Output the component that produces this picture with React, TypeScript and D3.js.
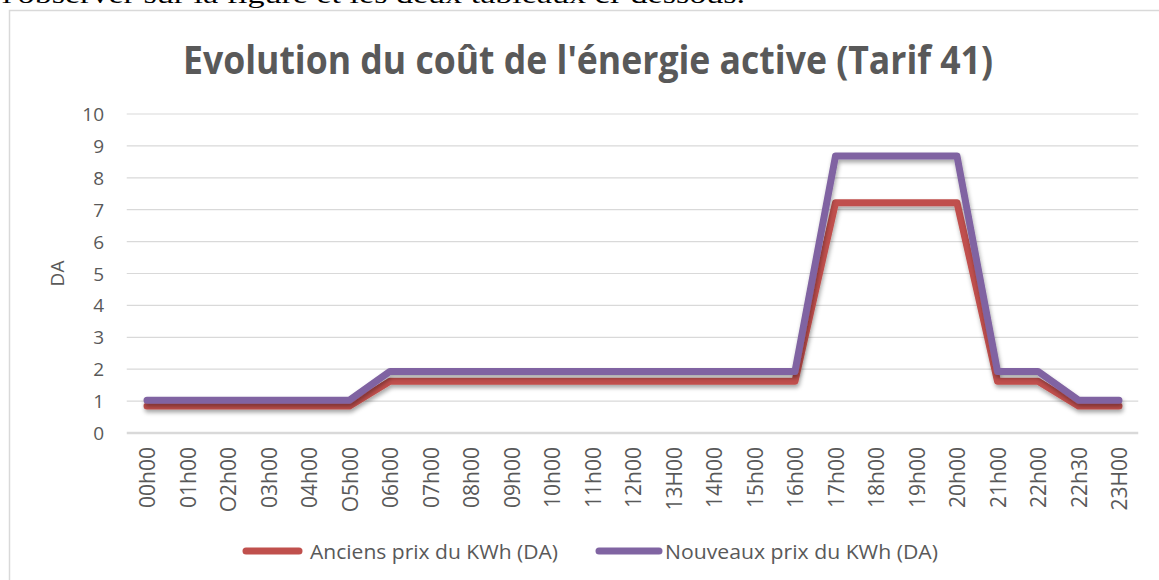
import React from "react";
import * as d3 from "d3";

// Time slots on the horizontal axis (labels as printed)
const hours = [
  "00h00", "01h00", "O2h00", "03h00", "04h00", "O5h00", "06h00", "07h00",
  "08h00", "09h00", "10h00", "11h00", "12h00", "13H00", "14h00", "15h00",
  "16h00", "17h00", "18h00", "19h00", "20h00", "21h00", "22h00", "22h30", "23H00",
];

// Former price per kWh (DA)
const anciensPrix = [
  0.85, 0.85, 0.85, 0.85, 0.85, 0.85, 1.62, 1.62, 1.62, 1.62, 1.62, 1.62, 1.62,
  1.62, 1.62, 1.62, 1.62, 7.22, 7.22, 7.22, 7.22, 1.62, 1.62, 0.85, 0.85,
];

// New price per kWh (DA)
const nouveauxPrix = [
  1.03, 1.03, 1.03, 1.03, 1.03, 1.03, 1.93, 1.93, 1.93, 1.93, 1.93, 1.93, 1.93,
  1.93, 1.93, 1.93, 1.93, 8.68, 8.68, 8.68, 8.68, 1.93, 1.93, 1.03, 1.03,
];

const yTicks = [0, 1, 2, 3, 4, 5, 6, 7, 8, 9, 10];

const seriesNames = ["Anciens prix du KWh (DA)", "Nouveaux prix du KWh (DA)"];
const seriesColors = ["#C0504D", "#8064A2"];

const W = 1159;
const H = 580;
const FONT = "'Open Sans', sans-serif";
const TEXT = "#595959";
const GRID = "#d9d9d9";

export default function App() {
  const plotLeft = 126.75;
  const plotRight = 1139.25;
  const plotTop = 114;
  const plotBottom = 433;

  const x = d3.scaleBand<string>().domain(hours).range([plotLeft, plotRight]);
  const cx = (h: string) => (x(h) as number) + x.bandwidth() / 2;
  const y = d3.scaleLinear().domain([0, 10]).range([plotBottom, plotTop]);

  const line = d3
    .line<number>()
    .x((_, i) => cx(hours[i]))
    .y((d) => y(d));

  const series = [anciensPrix, nouveauxPrix];

  return (
    <svg
      width={W}
      height={H}
      style={{ position: "absolute", left: 0, top: 0, background: "#fff" }}
      fontFamily={FONT}
    >
      <defs>
        <filter id="lineShadow" x="-5%" y="-20%" width="110%" height="140%">
          <feDropShadow dx="1" dy="3" stdDeviation="2" floodColor="#000" floodOpacity="0.35" />
        </filter>
      </defs>

      {/* running text of the surrounding document, cut at the top edge */}
      <text
        x={2}
        y={3}
        fontFamily="'Liberation Serif', 'DejaVu Serif', serif"
        fontSize={26}
        fill="#000"
        textLength={743}
        lengthAdjust="spacingAndGlyphs"
      >
        l'observer sur la figure et les deux tableaux ci-dessous.
      </text>

      {/* chart frame */}
      <rect x={9.5} y={10.5} width={1200} height={700} fill="#fff" stroke={GRID} strokeWidth={1.5} />

      {/* title */}
      <text
        x={588}
        y={74}
        textAnchor="middle"
        fontSize={39}
        fontWeight="bold"
        fill={TEXT}
        textLength={810}
        lengthAdjust="spacingAndGlyphs"
      >
        Evolution du coût de l'énergie active (Tarif 41)
      </text>

      {/* horizontal gridlines and y tick labels */}
      {yTicks.map((t) => (
        <g key={t}>
          <line
            x1={plotLeft}
            x2={plotRight - 1}
            y1={y(t)}
            y2={y(t)}
            stroke={GRID}
            strokeWidth={t === 0 ? 2.5 : 1.2}
          />
          <text
            x={104}
            y={y(t)}
            textAnchor="end"
            dominantBaseline="central"
            fontSize={19}
            fill={TEXT}
          >
            {t}
          </text>
        </g>
      ))}

      {/* y axis title */}
      <text
        transform={`translate(57,${(plotTop + plotBottom) / 2}) rotate(-90)`}
        textAnchor="middle"
        dominantBaseline="central"
        fontSize={19}
        fill={TEXT}
      >
        DA
      </text>

      {/* x category labels */}
      {hours.map((h) => (
        <text
          key={h}
          transform={`translate(${cx(h)},447) rotate(-90)`}
          textAnchor="end"
          dominantBaseline="central"
          fontSize={21}
          fill={TEXT}
        >
          {h}
        </text>
      ))}

      {/* price lines */}
      {series.map((s, i) => (
        <path
          key={seriesNames[i]}
          d={line(s) as string}
          fill="none"
          stroke={seriesColors[i]}
          strokeWidth={7}
          strokeLinejoin="round"
          strokeLinecap="round"
          filter="url(#lineShadow)"
        />
      ))}

      {/* legend */}
      <g>
        <line x1={246} x2={299} y1={551} y2={551} stroke={seriesColors[0]} strokeWidth={7} strokeLinecap="round" />
        <text
          x={310}
          y={551}
          dominantBaseline="central"
          fontSize={20}
          fill={TEXT}
          textLength={248}
          lengthAdjust="spacingAndGlyphs"
        >
          {seriesNames[0]}
        </text>
        <line x1={599} x2={659} y1={551} y2={551} stroke={seriesColors[1]} strokeWidth={7} strokeLinecap="round" />
        <text
          x={665}
          y={551}
          dominantBaseline="central"
          fontSize={20}
          fill={TEXT}
          textLength={273}
          lengthAdjust="spacingAndGlyphs"
        >
          {seriesNames[1]}
        </text>
      </g>
    </svg>
  );
}
